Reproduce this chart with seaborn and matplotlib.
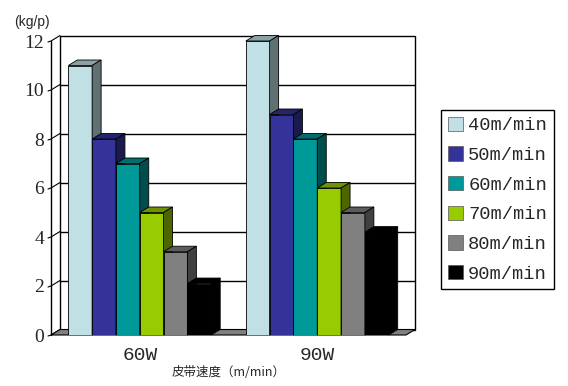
import matplotlib
matplotlib.use('Agg')
import matplotlib.pyplot as plt
import seaborn as sns
import pandas as pd
import numpy as np
from matplotlib.patches import Polygon, Rectangle, Patch
from matplotlib.lines import Line2D
from matplotlib.colors import to_rgb

categories = ['60W', '90W']
speeds = ['40m/min', '50m/min', '60m/min', '70m/min', '80m/min', '90m/min']
vals_60w = [11, 8, 7, 5, 3.4, 2.1]
vals_90w = [12, 9, 8, 6, 5, 4.2]
colors = ['#C0E0E6', '#333399', '#009999', '#99CC00', '#808080', '#000000']
yticks = [0, 2, 4, 6, 8, 10, 12]
ylabel_text = '(kg/p)'
xlabel_text = '皮带速度（m/min）'

rows = []
for cat, vals in zip(categories, [vals_60w, vals_90w]):
    for s, v in zip(speeds, vals):
        rows.append({'power': cat, 'speed': s, 'value': v})
df = pd.DataFrame(rows)

sns.set_theme(style='white')
plt.rcParams['font.family'] = ['DejaVu Sans']

W, H = 568, 386
fig = plt.figure(figsize=(W / 100, H / 100), dpi=100)
fig.patch.set_facecolor('white')
ax = fig.add_axes([51 / W, 1 - 335 / H, 355 / W, 294 / H])
ax.set_facecolor('none')

sns.barplot(data=df, x='power', y='value', hue='speed', palette=colors,
            order=categories, hue_order=speeds, width=0.805, saturation=1,
            edgecolor='black', linewidth=0.6, ax=ax, legend=False, errorbar=None)

xmin, xmax, ymax = -0.5, 1.5, 12
ax.set_xlim(xmin, xmax)
ax.set_ylim(0, ymax)
px_x = 355 / (xmax - xmin)
px_y = 294 / ymax
dx = 9 / px_x
dy = 5.5 / px_y

bars = [p for p in ax.patches if isinstance(p, Rectangle)]
for p in bars:
    x0, w, h = p.get_x(), p.get_width(), p.get_height()
    xc = x0 + w / 2
    k = int(round((xc - round(xc) + 0.805 / 2 - w / 2) / w))
    z = 3 + k
    p.set_zorder(z)
    c = np.array(to_rgb(p.get_facecolor()))
    top = Polygon([(x0, h), (x0 + w, h), (x0 + w + dx, h + dy), (x0 + dx, h + dy)],
                  closed=True, facecolor=c * 0.72, edgecolor='black', lw=0.6,
                  zorder=z, clip_on=False)
    side = Polygon([(x0 + w, 0), (x0 + w + dx, dy), (x0 + w + dx, h + dy), (x0 + w, h)],
                   closed=True, facecolor=c * 0.5, edgecolor='black', lw=0.6,
                   zorder=z, clip_on=False)
    ax.add_patch(top)
    ax.add_patch(side)

# back wall
ax.add_patch(Rectangle((xmin + dx, dy), xmax - xmin, ymax, facecolor='white',
                       edgecolor='black', lw=1.0, zorder=0.5, clip_on=False))
for y in yticks[1:-1]:
    ax.add_line(Line2D([xmin + dx, xmax + dx], [y + dy, y + dy], color='black',
                       lw=1.0, zorder=0.6, clip_on=False))
# left wall
ax.add_line(Line2D([xmin, xmin], [0, ymax], color='black', lw=1.0, zorder=0.7, clip_on=False))
for y in yticks:
    ax.add_line(Line2D([xmin - 3 / px_x, xmin, xmin + dx], [y - 1 / px_y, y, y + dy],
                       color='black', lw=0.8, zorder=0.7, clip_on=False))
# floor
ax.add_patch(Polygon([(xmin, 0), (xmax, 0), (xmax + dx, dy), (xmin + dx, dy)], closed=True,
                     facecolor='#808080', edgecolor='black', lw=0.8, zorder=2, clip_on=False))

for s in ax.spines.values():
    s.set_visible(False)
ax.set_xlabel('')
ax.set_ylabel('')
ax.set_yticks(yticks)
ax.set_yticklabels([str(t) for t in yticks], fontfamily='Liberation Serif', fontsize=14)
ax.tick_params(axis='y', length=0, pad=5)
ax.set_xticks([0, 1])
ax.set_xticklabels(categories, fontfamily='Liberation Mono', fontsize=14)
ax.tick_params(axis='x', length=0, pad=9)
ax.grid(False)

fig.text(14 / W, 1 - 22 / H, ylabel_text, fontfamily='Liberation Sans', fontsize=10,
         va='center', ha='left')
fig.text(229 / W, 1 - 373 / H, xlabel_text, family=['Noto Sans CJK SC', 'DejaVu Sans'],
         fontsize=9, va='center', ha='center')

handles = [Patch(facecolor=c, edgecolor='#555555', lw=0.5) for c in colors]
leg = fig.legend(handles, speeds, loc='upper left', bbox_to_anchor=(441 / W, 1 - 110 / H),
                 prop={'family': 'Liberation Mono', 'size': 13.5}, frameon=True,
                 fancybox=False, edgecolor='black', framealpha=1, borderpad=0.35,
                 handlelength=0.8, handleheight=0.8, handletextpad=0.3, labelspacing=0.64,
                 borderaxespad=0)
leg.get_frame().set_linewidth(1.0)

fig.savefig('out.png', dpi=100)
